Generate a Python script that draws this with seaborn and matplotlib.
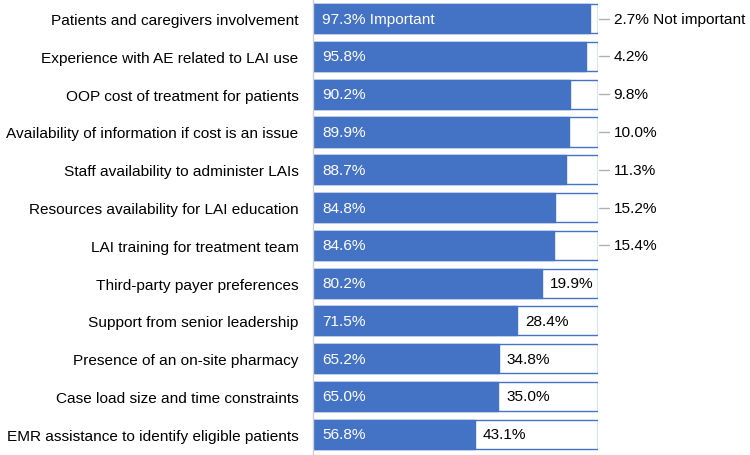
import matplotlib
matplotlib.use("Agg")
import matplotlib.pyplot as plt
import seaborn as sns
import pandas as pd

categories = [
    "Patients and caregivers involvement",
    "Experience with AE related to LAI use",
    "OOP cost of treatment for patients",
    "Availability of information if cost is an issue",
    "Staff availability to administer LAIs",
    "Resources availability for LAI education",
    "LAI training for treatment team",
    "Third-party payer preferences",
    "Support from senior leadership",
    "Presence of an on-site pharmacy",
    "Case load size and time constraints",
    "EMR assistance to identify eligible patients",
]
important = [97.3, 95.8, 90.2, 89.9, 88.7, 84.8, 84.6, 80.2, 71.5, 65.2, 65.0, 56.8]
not_important = [2.7, 4.2, 9.8, 10.0, 11.3, 15.2, 15.4, 19.9, 28.4, 34.8, 35.0, 43.1]

BLUE = "#4472C4"
FS = 11.1

sns.set_style("white")
plt.rcParams["font.family"] = ["Liberation Sans", "DejaVu Sans"]
plt.rcParams["text.color"] = "black"
plt.rcParams["ytick.color"] = "black"

df = pd.DataFrame({"category": categories, "important": important,
                   "not_important": not_important})
df["total"] = df["important"] + df["not_important"]

fig = plt.figure(figsize=(7.5, 4.56), dpi=100)
ax = fig.add_axes([313 / 750, 0.0, 285 / 750, 1.0])

# white full-length bar with blue outline, then the blue "important" part over it
sns.barplot(data=df, x="total", y="category", orient="h", color="white",
            edgecolor=BLUE, linewidth=1, width=0.77, ax=ax, saturation=1)
sns.barplot(data=df, x="important", y="category", orient="h", color=BLUE,
            edgecolor=BLUE, linewidth=1, width=0.77, ax=ax, saturation=1)

for i, row in df.iterrows():
    imp_txt = f"{row['important']:.1f}%"
    ni_txt = f"{row['not_important']:.1f}%"
    if i == 0:
        imp_txt += " Important"
        ni_txt += " Not important"
    ax.text(3.2, i, imp_txt, color="white", va="center", ha="left", fontsize=FS)
    if row["not_important"] < 17:
        ax.plot([100.5, 104], [i, i], color="#B0B0B0", lw=1, clip_on=False)
        ax.text(105.5, i, ni_txt, color="black", va="center", ha="left",
                fontsize=FS, clip_on=False)
    else:
        ax.text(row["important"] + 2.8, i, ni_txt, color="black", va="center",
                ha="left", fontsize=FS)

ax.set_xlim(0, 100)
ax.set_ylim(11.55, -0.52)
ax.set_xlabel("")
ax.set_ylabel("")
ax.set_xticks([])
ax.tick_params(axis="y", length=0, pad=10.5, labelsize=FS, labelcolor="black")
for s in ["top", "right", "bottom"]:
    ax.spines[s].set_visible(False)
ax.spines["left"].set_color("#D0D0D0")
ax.spines["left"].set_linewidth(1)

fig.savefig("out.png", dpi=100)
